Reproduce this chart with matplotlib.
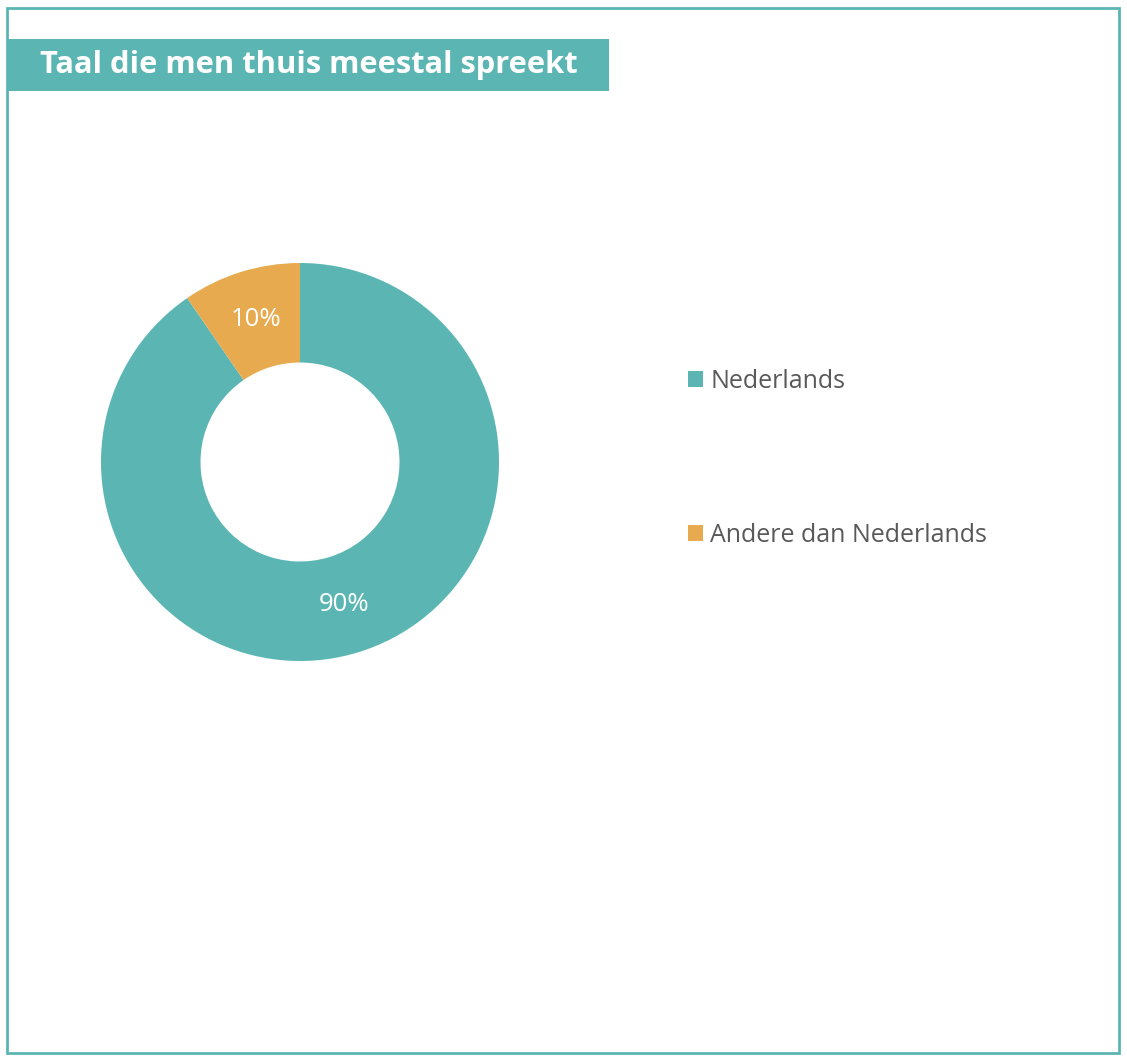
import matplotlib.pyplot as plt
from matplotlib.patches import Rectangle

labels = ['Nederlands', 'Andere dan Nederlands']
values = [90.4, 9.6]
colors = ['#5BB6B3', '#E8AA4F']
title = 'Taal die men thuis meestal spreekt'

W, H = 1127, 1059
fig = plt.figure(figsize=(W / 100, H / 100), dpi=100)
plt.rcParams['font.family'] = ['Open Sans', 'DejaVu Sans']

# outer frame
fig.patches.append(Rectangle((7 / W, 1 - 1053 / H), (1119 - 7) / W, (1053 - 8) / H,
                             transform=fig.transFigure, fill=False,
                             edgecolor='#5BB6B3', linewidth=2))
# title banner
fig.patches.append(Rectangle((7 / W, 1 - 91 / H), (609 - 7) / W, 52 / H,
                             transform=fig.transFigure, facecolor='#5BB6B3',
                             edgecolor='none'))
fig.text(40 / W, 1 - 65 / H, title, color='white', fontsize=22.2,
         fontweight='bold', va='center', ha='left')

# donut
cx, cy, r = 300, 462, 199
ax = fig.add_axes([(cx - r) / W, (H - cy - r) / H, 2 * r / W, 2 * r / H])
wedges, texts, autotexts = ax.pie(values, colors=colors, startangle=90,
                                  counterclock=False, autopct='%.0f%%',
                                  pctdistance=0.75,
                                  wedgeprops=dict(width=0.5, edgecolor='white', linewidth=0),
                                  textprops=dict(color='white', fontsize=18.5))
ax.set_xlim(-1, 1)
ax.set_ylim(-1, 1)
ax.set_aspect('equal')
ax.axis('off')

fig.legend(wedges, labels, loc='upper left', bbox_to_anchor=(688 / W, 1 - 369 / H),
           frameon=False, fontsize=18, labelcolor='#595959',
           borderaxespad=0, borderpad=0,
           handlelength=0.6, handleheight=0.6, handletextpad=0.3,
           labelspacing=5.15)

fig.savefig('out.png', dpi=100)
